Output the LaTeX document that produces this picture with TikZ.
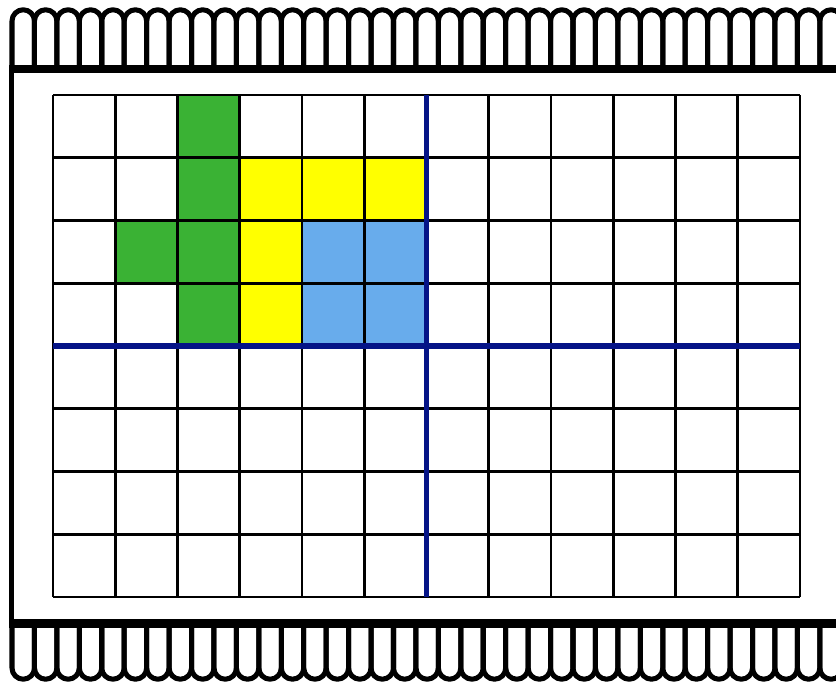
\documentclass[tikz,border=0pt]{standalone}
\usepackage{tikz}
\usetikzlibrary{calc}
\definecolor{cellgreen}{RGB}{58,178,52}
\definecolor{cellyellow}{RGB}{255,255,0}
\definecolor{cellblue}{RGB}{104,172,236}
\definecolor{axisblue}{RGB}{5,20,135}
\tikzset{
  every picture/.style={line join=round},
  tooth/.style={line width=4.3pt,draw=black},
  bar/.style={line width=7pt,draw=black},
  sideline/.style={line width=5pt,draw=black},
  gridline/.style={line width=2.4pt,draw=black},
  axisline/.style={line width=4.4pt,draw=axisblue}
}
\newcommand{\cw}{62.25}
\newcommand{\ch}{62.75}
\newcommand{\pitch}{22.44}
\begin{document}
\begin{tikzpicture}[x=.3mm,y=.3mm]
  \useasboundingbox (0,0) rectangle (836,683);
  \clip (0,0) rectangle (836,683);
  \fill[white] (0,0) rectangle (836,683);

  % The coloured cells, column/row counted from the top left.
  \foreach \c/\r/\col in {2/0/cellgreen,2/1/cellgreen,2/2/cellgreen,
      2/3/cellgreen,1/2/cellgreen,3/1/cellyellow,4/1/cellyellow,
      5/1/cellyellow,3/2/cellyellow,3/3/cellyellow,4/2/cellblue,
      5/2/cellblue,4/3/cellblue,5/3/cellblue}{
    \fill[\col] ({53+\cw*\c},{588-\ch*\r}) rectangle ++(\cw,-\ch);
  }

  % The grid, 12 by 8.
  \foreach \i in {0,...,12}{
    \draw[gridline] ({53+\cw*\i},86) -- ({53+\cw*\i},588);
  }
  \foreach \j in {0,...,8}{
    \draw[gridline] (53,{588-\ch*\j}) -- (800,{588-\ch*\j});
  }
  \draw[axisline] ({53+\cw*6},86) -- ({53+\cw*6},588);
  \draw[axisline] (53,{588-\ch*4}) -- (800,{588-\ch*4});

  % The frame with its combs of teeth.
  \foreach \k in {0,...,37}{
    \draw[tooth] ({12+\pitch*\k},614) -- ++(0,48)
      arc(180:0:{\pitch/2}) -- ++(0,-48);
    \draw[tooth] ({12+\pitch*\k},60) -- ++(0,-45)
      arc(180:360:{\pitch/2}) -- ++(0,45);
  }
  \draw[bar] (9,614) -- (840,614);
  \draw[bar] (9,59.5) -- (840,59.5);
  \draw[sideline] (11.5,617) -- (11.5,56);
\end{tikzpicture}
\end{document}
